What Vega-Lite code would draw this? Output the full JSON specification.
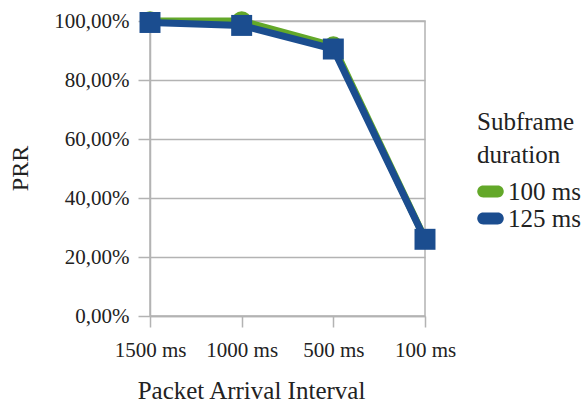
{
  "$schema": "https://vega.github.io/schema/vega-lite/v6.json",
  "autosize": {"type": "none"},
  "padding": {"left": 150, "top": 21, "right": 160, "bottom": 92},
  "width": 275,
  "height": 295,
  "background": "white",
  "config": {
    "font": "'Liberation Serif', 'Times New Roman', serif",
    "axis": {"labelFont": "'Liberation Serif', 'Times New Roman', serif", "titleFont": "'Liberation Serif', 'Times New Roman', serif"},
    "legend": {"labelFont": "'Liberation Serif', 'Times New Roman', serif", "titleFont": "'Liberation Serif', 'Times New Roman', serif"},
    "view": {"stroke": "#b3b3b3", "strokeWidth": 1.5}
  },
  "data": {
    "values": [
      {"interval": "1500 ms", "duration": "100 ms", "prr": 1.0},
      {"interval": "1000 ms", "duration": "100 ms", "prr": 1.0},
      {"interval": "500 ms", "duration": "100 ms", "prr": 0.915},
      {"interval": "100 ms", "duration": "100 ms", "prr": 0.262},
      {"interval": "1500 ms", "duration": "125 ms", "prr": 0.995},
      {"interval": "1000 ms", "duration": "125 ms", "prr": 0.985},
      {"interval": "500 ms", "duration": "125 ms", "prr": 0.905},
      {"interval": "100 ms", "duration": "125 ms", "prr": 0.26}
    ]
  },
  "encoding": {
    "x": {
      "field": "interval",
      "type": "ordinal",
      "sort": ["1500 ms", "1000 ms", "500 ms", "100 ms"],
      "scale": {"type": "point", "padding": 0},
      "axis": {
        "title": "Packet Arrival Interval",
        "titleFontSize": 25,
        "titleFontWeight": "normal",
        "titleColor": "#222",
        "titleX": 101,
        "titleY": 82,
        "titleAlign": "center",
        "titleBaseline": "alphabetic",
        "labelAngle": 0,
        "labelFontSize": 21,
        "labelColor": "#222",
        "labelPadding": 12,
        "tickSize": 11,
        "tickColor": "#b3b3b3",
        "tickWidth": 1.5,
        "domainColor": "#b3b3b3",
        "domainWidth": 1.5,
        "grid": false
      }
    },
    "y": {
      "field": "prr",
      "type": "quantitative",
      "scale": {"domain": [0, 1], "nice": false, "zero": true},
      "axis": {
        "title": "PRR",
        "titleFontSize": 24,
        "titleFontWeight": "normal",
        "titleColor": "#222",
        "titleX": -130,
        "titleY": 147,
        "titleAngle": -90,
        "titleAlign": "center",
        "titleBaseline": "middle",
        "values": [0, 0.2, 0.4, 0.6, 0.8, 1.0],
        "labelExpr": "replace(format(datum.value, '.2%'), '.', ',')",
        "labelFontSize": 21,
        "labelColor": "#222",
        "labelPadding": 9,
        "tickSize": 12,
        "tickColor": "#b3b3b3",
        "tickWidth": 1.5,
        "domainColor": "#b3b3b3",
        "domainWidth": 1.5,
        "grid": true,
        "gridColor": "#b3b3b3",
        "gridWidth": 1.5
      }
    },
    "color": {
      "field": "duration",
      "type": "nominal",
      "scale": {"domain": ["100 ms", "125 ms"], "range": ["#63a829", "#1b4d8f"]},
      "legend": {
        "title": ["Subframe", "duration"],
        "orient": "none",
        "legendX": 327,
        "legendY": 89,
        "titleFontSize": 25,
        "titleFontWeight": "normal",
        "titleColor": "#222",
        "titleLineHeight": 33,
        "titlePadding": 10,
        "labelFontSize": 25,
        "labelColor": "#222",
        "labelOffset": 4,
        "rowPadding": 0,
        "symbolType": "M-0.55,-0.45 L0.55,-0.45 A0.45,0.45 0 0 1 0.55,0.45 L-0.55,0.45 A0.45,0.45 0 0 1 -0.55,-0.45 Z",
        "symbolSize": 700,
        "symbolStrokeWidth": 0,
        "symbolOpacity": 1
      }
    }
  },
  "layer": [
    {"mark": {"type": "line", "strokeWidth": 7}},
    {
      "transform": [{"filter": "datum.duration === '100 ms'"}],
      "mark": {"type": "point", "shape": "circle", "filled": true, "opacity": 1, "size": 380}
    },
    {
      "transform": [{"filter": "datum.duration === '125 ms'"}],
      "mark": {"type": "point", "shape": "square", "filled": true, "opacity": 1, "size": 440}
    }
  ]
}
